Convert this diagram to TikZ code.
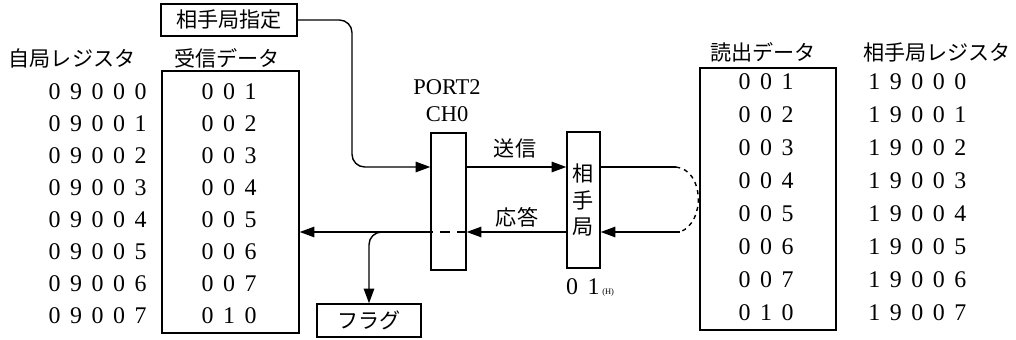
\documentclass[tikz,border=0pt]{standalone}
\usepackage{fontspec}
\newfontfamily\jpfont{Noto Sans CJK JP}
\newfontfamily\serfont{Liberation Serif}
\newcommand\numfont{\serfont\fontsize{17}{20}\selectfont\spaceskip=0.4em\relax}
\usetikzlibrary{arrows.meta,positioning}
\tikzset{
 box/.style={draw, line width=1pt, inner sep=0pt},
 jp/.style={font=\jpfont\fontsize{15}{19}\selectfont},
 num/.style={font=\numfont, inner sep=0pt},
 arr/.style={-{Triangle[length=10.5pt,width=7.5pt]}, line width=1pt},
 wire/.style={line width=1pt}
}

\begin{document}
\begin{tikzpicture}[x=0.025cm, y=-0.025cm]
\useasboundingbox (0,0) rectangle (1016,340);
% boxes
\node[box, jp, minimum width=3.4cm, minimum height=0.8cm] (spec) at (229,20) {相手局指定};
\node[box, minimum width=3.425cm, minimum height=6.55cm] (rxbox) at (230.5,202) {};
\node[box, minimum width=3.4cm, minimum height=6.55cm] (rdbox) at (768,199) {};
\node[box, minimum width=0.875cm, minimum height=3.425cm] (port) at (448.5,201.5) {};
\node[box, jp, align=center, minimum width=0.825cm, minimum height=3.4cm] (remote) at (583.5,200) {相\\手\\局};
\node[box, jp, minimum width=2.6cm, minimum height=0.825cm] (flag) at (369,320.5) {フラグ};
% headings
\node[jp] (ownlbl) at (72,58) {自局レジスタ};
\node[jp] (rxlbl) at (227,58) {受信データ};
\node[jp] (rdlbl) at (763,52) {読出データ};
\node[jp] (remlbl) at (937,52) {相手局レジスタ};
\node[font=\serfont\fontsize{16}{19}\selectfont, align=center] (portlbl) at (447,101) {PORT2\\CH0};
\node[jp] (txlbl) at (515,148) {送信};
\node[jp] (rxlbl2) at (517,217) {応答};
\node[num] (addr) at (590,287) {0 1\hspace{2pt}{\fontsize{6}{6}\selectfont(H)}};
% table rows
\foreach \r/\d [count=\i from 0] in {0 9 0 0 0/0 0 1, 0 9 0 0 1/0 0 2, 0 9 0 0 2/0 0 3, 0 9 0 0 3/0 0 4,
  0 9 0 0 4/0 0 5, 0 9 0 0 5/0 0 6, 0 9 0 0 6/0 0 7, 0 9 0 0 7/0 1 0}
{
  \node[num, anchor=east] (lreg\i) at (147,92+32*\i) {\r};
  \node[num] (ldat\i) at (229,92+32*\i) {\d};
}
\foreach \d/\r [count=\i from 0] in {0 0 1/1 9 0 0 0, 0 0 2/1 9 0 0 1, 0 0 3/1 9 0 0 2, 0 0 4/1 9 0 0 3,
  0 0 5/1 9 0 0 4, 0 0 6/1 9 0 0 5, 0 0 7/1 9 0 0 6, 0 1 0/1 9 0 0 7}
{
  \node[num] (rdat\i) at (766,82+33*\i) {\d};
  \node[num, anchor=west] (rreg\i) at (868,82+33*\i) {\r};
}
% connectors
\coordinate (tx) at (0,167);
\coordinate (rx) at (0,232);
\coordinate (bend) at (352,167);
\coordinate (loopa) at (676,167);
\coordinate (loopb) at (680,232);
\coordinate (tap) at (388,232);
\draw[arr, rounded corners=9pt] (spec.east) -| (bend) -- (port.west |- tx);
\draw[arr] (port.east |- tx) -- (remote.west |- tx);
\draw[wire] (remote.east |- tx) -- (loopa);
\draw[wire, dashed] (loopa) .. controls (704,170) and (706,222) .. (loopb);
\draw[arr] (loopb) -- (remote.east |- rx);
\draw[arr] (remote.west |- rx) -- (port.east |- rx);
\draw[wire, dash pattern=on 7pt off 5pt] (port.east |- rx) -- (port.west |- rx);
\draw[arr] (port.west |- rx) -- (rxbox.east |- rx);
\draw[arr, rounded corners=9pt] (tap) -| (flag.north);
\end{tikzpicture}
\end{document}
